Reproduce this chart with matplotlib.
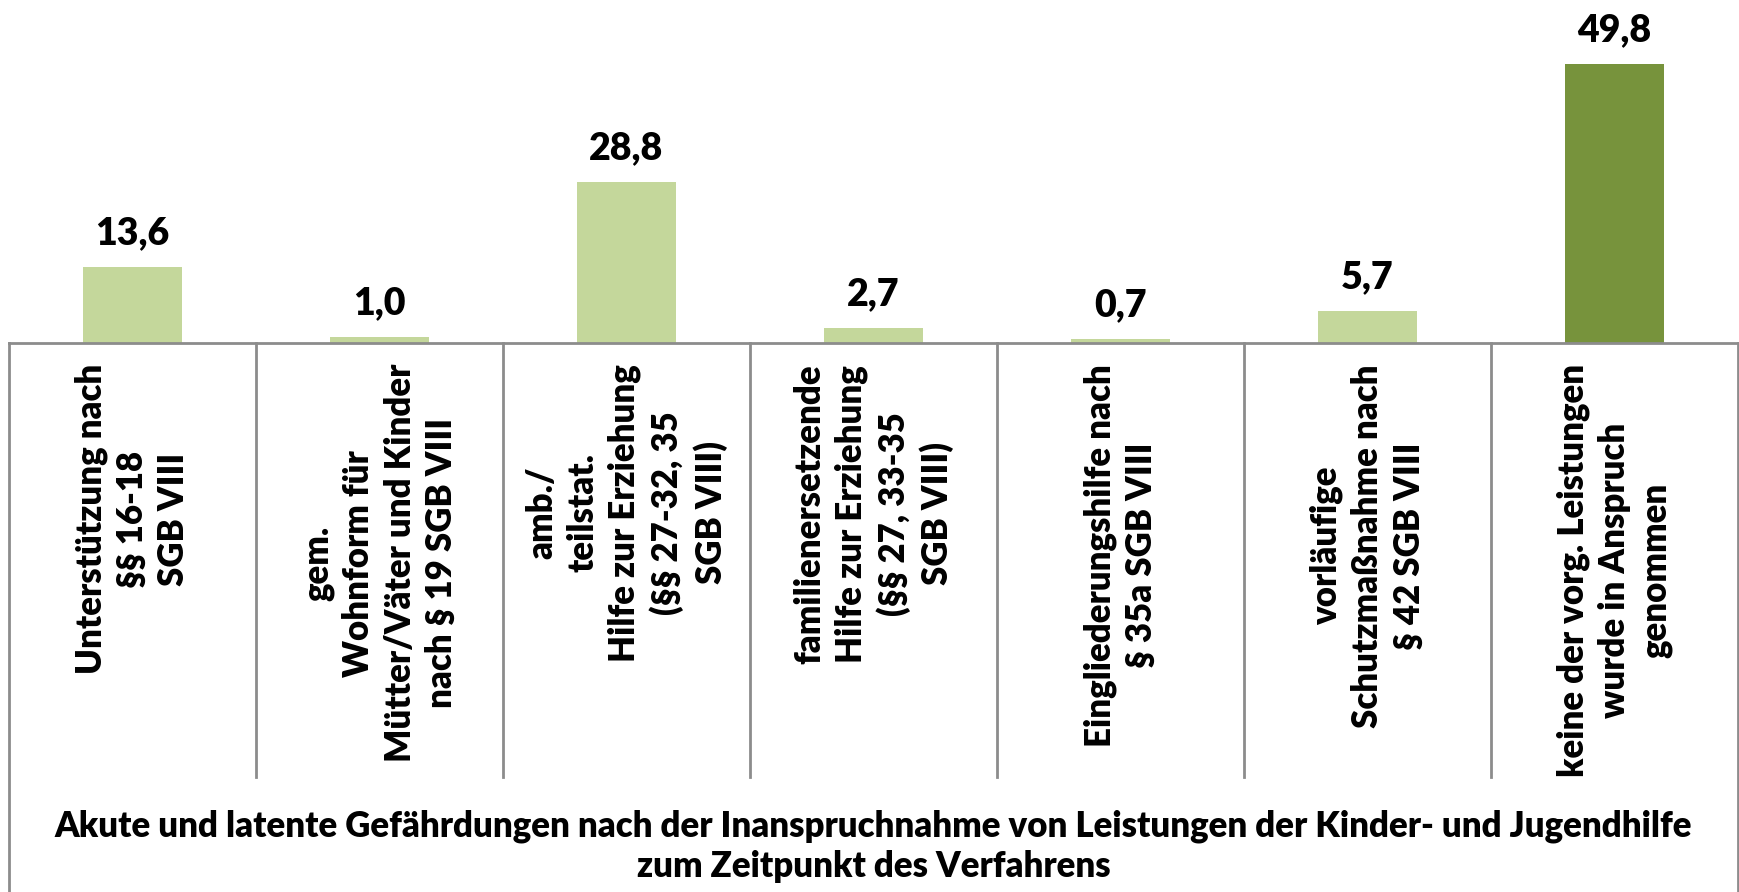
import matplotlib
matplotlib.use("Agg")
import matplotlib.pyplot as plt

categories = [
    "Unterstützung nach\n§§ 16-18\nSGB VIII",
    "gem.\nWohnform für\nMütter/Väter und Kinder\nnach § 19 SGB VIII",
    "amb./\nteilstat.\nHilfe zur Erziehung\n(§§ 27-32, 35\nSGB VIII)",
    "familienersetzende\nHilfe zur Erziehung\n(§§ 27, 33-35\nSGB VIII)",
    "Eingliederungshilfe nach\n§ 35a SGB VIII",
    "vorläufige\nSchutzmaßnahme nach\n§ 42 SGB VIII",
    "keine der vorg. Leistungen\nwurde in Anspruch\ngenommen",
]
values = [13.6, 1.0, 28.8, 2.7, 0.7, 5.7, 49.8]
title_text = ("Akute und latente Gefährdungen nach der Inanspruchnahme von Leistungen der Kinder- und Jugendhilfe\n"
              "zum Zeitpunkt des Verfahrens")

light = "#C4D79B"
dark = "#77933C"
bar_colors = [light] * (len(values) - 1) + [dark]
grid_col = "#8C8C8C"

plt.rcParams['font.family'] = ['Lato', 'DejaVu Sans']
WEIGHT = 'heavy'

W, H, DPI = 1739, 892, 100
fig = plt.figure(figsize=(W / DPI, H / DPI), dpi=DPI)
axis_y = 343
left_px, right_px = 9, 1738
ax = fig.add_axes([left_px / W, (H - axis_y) / H, (right_px - left_px) / W, axis_y / H])

x = list(range(len(values)))
ax.bar(x, values, width=0.4, color=bar_colors, zorder=2)
ax.set_xlim(-0.5, len(values) - 0.5)
ax.set_ylim(0, axis_y / 5.6)
ax.set_xticks([])
ax.set_yticks([])
for s in ['top', 'left', 'right']:
    ax.spines[s].set_visible(False)
ax.spines['bottom'].set_color(grid_col)
ax.spines['bottom'].set_linewidth(2)

for xi, v in zip(x, values):
    ax.annotate(f"{v:.1f}".replace('.', ','), (xi, v), xytext=(0, 23),
                textcoords='offset pixels', ha='center', va='baseline',
                fontsize=27, fontweight=WEIGHT, color='black')

# category dividers extending below the axis
trans = ax.get_xaxis_transform()
div_bottom = -(777 - axis_y) / axis_y
outer_bottom = -(H + 5 - axis_y) / axis_y
n = len(values)
for k in range(n + 1):
    xd = k - 0.5
    yb = outer_bottom if k in (0, n) else div_bottom
    ax.plot([xd, xd], [0, yb], transform=trans, color=grid_col, lw=2, clip_on=False)

label_top = -(364 - axis_y) / axis_y
for xi, lab in zip(x, categories):
    ax.text(xi, label_top, lab, transform=trans, rotation=90, ha='center', va='top',
            multialignment='center', fontsize=25, fontweight=WEIGHT, linespacing=1.3)

fig.text((left_px + right_px) / 2 / W, 1 - 846 / H, title_text, ha='center', va='center',
         multialignment='center', fontsize=25, fontweight=WEIGHT, linespacing=1.25)

fig.savefig("out.png", dpi=DPI)
